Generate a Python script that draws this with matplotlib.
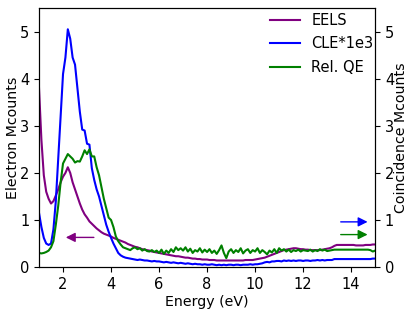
import numpy as np
import matplotlib
matplotlib.use("Agg")
import matplotlib.pyplot as plt

# energy grid, 0.1 eV steps from 1 to 15
energy = np.round(np.arange(1.0, 15.01, 0.1), 1)

eels = [
    3.8, 2.7, 1.95, 1.6, 1.45, 1.35, 1.4, 1.52, 1.65, 1.8,
    1.92, 2.0, 2.12, 2.0, 1.8, 1.65, 1.5, 1.35, 1.22, 1.12,
    1.05, 0.97, 0.92, 0.87, 0.82, 0.78, 0.74, 0.71, 0.69, 0.67,
    0.65, 0.62, 0.6, 0.58, 0.56, 0.54, 0.52, 0.49, 0.47, 0.45,
    0.43, 0.42, 0.4, 0.38, 0.37, 0.36, 0.35, 0.33, 0.32, 0.31,
    0.3, 0.29, 0.28, 0.27, 0.26, 0.25, 0.24, 0.23, 0.23, 0.22,
    0.21, 0.2, 0.2, 0.19, 0.18, 0.18, 0.17, 0.17, 0.16, 0.16,
    0.16, 0.15, 0.15, 0.15, 0.14, 0.14, 0.14, 0.14, 0.14, 0.14,
    0.14, 0.14, 0.14, 0.14, 0.14, 0.14, 0.15, 0.15, 0.15, 0.15,
    0.16, 0.17, 0.18, 0.19, 0.2, 0.22, 0.24, 0.26, 0.28, 0.3,
    0.32, 0.34, 0.36, 0.37, 0.38, 0.39, 0.4, 0.4, 0.39, 0.38,
    0.38, 0.37, 0.37, 0.36, 0.36, 0.36, 0.36, 0.36, 0.37, 0.38,
    0.39, 0.4, 0.42, 0.45, 0.47, 0.47, 0.47, 0.47, 0.47, 0.47,
    0.47, 0.47, 0.46, 0.46, 0.46, 0.46, 0.47, 0.47, 0.47, 0.48,
    0.48,
]

cle = [
    1.15, 0.85, 0.62, 0.5, 0.47, 0.5, 0.8, 1.4, 2.3, 3.2,
    4.1, 4.45, 5.05, 4.85, 4.45, 4.3, 3.8, 3.3, 2.92, 2.9,
    2.62, 2.6, 2.1, 1.85, 1.65, 1.5, 1.3, 1.1, 0.9, 0.75,
    0.62, 0.5, 0.4, 0.3, 0.25, 0.22, 0.2, 0.19, 0.18, 0.17,
    0.16, 0.15, 0.16, 0.15, 0.14, 0.14, 0.13, 0.12, 0.13, 0.12,
    0.12, 0.11, 0.1, 0.11, 0.1, 0.09, 0.1, 0.09, 0.08, 0.09,
    0.08, 0.07, 0.08, 0.07, 0.06, 0.07, 0.06, 0.06, 0.05, 0.06,
    0.05, 0.05, 0.06, 0.05, 0.04, 0.05, 0.04, 0.05, 0.04, 0.05,
    0.05, 0.04, 0.05, 0.05, 0.04, 0.05, 0.05, 0.05, 0.06, 0.05,
    0.06, 0.06, 0.07, 0.08, 0.1, 0.11, 0.1, 0.12, 0.12, 0.13,
    0.13, 0.12, 0.14, 0.13, 0.14, 0.13, 0.14, 0.13, 0.14, 0.14,
    0.13, 0.14, 0.14, 0.13, 0.14, 0.14, 0.15, 0.14, 0.15, 0.14,
    0.15, 0.15, 0.15, 0.17, 0.17, 0.17, 0.17, 0.17, 0.17, 0.17,
    0.17, 0.17, 0.17, 0.17, 0.17, 0.17, 0.17, 0.17, 0.17, 0.18,
    0.18,
]

rel_qe = [
    0.3, 0.29, 0.3, 0.32, 0.35, 0.42, 0.55, 0.9, 1.3, 1.8,
    2.2, 2.3, 2.4, 2.35, 2.3, 2.22, 2.25, 2.24, 2.35, 2.48,
    2.4, 2.5, 2.35, 2.35, 2.12, 1.95, 1.7, 1.45, 1.25, 1.05,
    1.0, 0.85, 0.65, 0.55, 0.48, 0.42, 0.4, 0.38, 0.36, 0.4,
    0.42, 0.38, 0.4, 0.35, 0.38, 0.34, 0.33, 0.36, 0.32, 0.35,
    0.3, 0.37, 0.28, 0.35, 0.3, 0.38, 0.32, 0.42, 0.36, 0.4,
    0.35, 0.42, 0.33, 0.39, 0.3, 0.36, 0.33, 0.4, 0.31, 0.37,
    0.32, 0.38, 0.3, 0.35, 0.28, 0.36, 0.46, 0.3, 0.19, 0.33,
    0.38, 0.3, 0.36, 0.32, 0.4, 0.29, 0.35, 0.38, 0.3, 0.36,
    0.33, 0.4, 0.3, 0.36, 0.32, 0.27, 0.35, 0.31, 0.38, 0.3,
    0.4, 0.35, 0.38, 0.33, 0.37, 0.32, 0.36, 0.34, 0.37, 0.33,
    0.36, 0.35, 0.34, 0.37, 0.33, 0.36, 0.34, 0.38, 0.35, 0.37,
    0.34, 0.35, 0.36, 0.37, 0.37, 0.37, 0.37, 0.37, 0.37, 0.37,
    0.37, 0.37, 0.37, 0.37, 0.37, 0.37, 0.37, 0.37, 0.36, 0.33,
    0.35,
]

fig = plt.figure(figsize=(4.15, 3.12), dpi=100)
ax = fig.add_axes([0.094, 0.144, 0.81, 0.83])
ax2 = ax.twinx()

l1, = ax.plot(energy, eels, color="purple", lw=1.5, label="EELS")
l2, = ax2.plot(energy, cle, color="blue", lw=1.5, label="CLE*1e3")
l3, = ax2.plot(energy, rel_qe, color="green", lw=1.5, label="Rel. QE")

for a in (ax, ax2):
    a.set_ylim(0, 5.5)
    a.set_xlim(1, 15)
    a.tick_params(labelsize=10.5)

ax.set_xlabel("Energy (eV)", fontsize=10.2, labelpad=2)
ax.set_ylabel("Electron Mcounts", fontsize=10.2, labelpad=0)
ax2.set_ylabel("Coincidence Mcounts", fontsize=10.2, labelpad=0)

# arrows saying which axis each curve belongs to
ax.annotate("", xy=(2.0, 0.63), xytext=(3.4, 0.63),
            arrowprops=dict(arrowstyle="-|>", color="purple", lw=1, mutation_scale=14))
ax2.annotate("", xy=(14.8, 0.96), xytext=(13.45, 0.96),
             arrowprops=dict(arrowstyle="-|>", color="blue", lw=1, mutation_scale=14))
ax2.annotate("", xy=(14.8, 0.69), xytext=(13.45, 0.69),
             arrowprops=dict(arrowstyle="-|>", color="green", lw=1, mutation_scale=14))

ax2.legend(handles=[l1, l2, l3], loc="upper right", bbox_to_anchor=(1.012, 1.005),
           frameon=False, fontsize=10.5, borderaxespad=0.0, labelspacing=0.6)

fig.savefig("out.png", dpi=100)
